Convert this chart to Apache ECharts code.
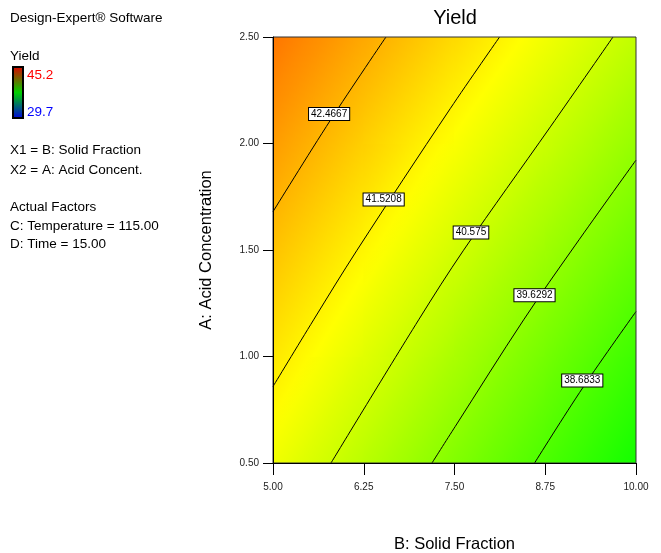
<!DOCTYPE html>
<html>
<head>
<meta charset="utf-8">
<title>Yield</title>
<script src="https://cdn.jsdelivr.net/npm/echarts@6/dist/echarts.min.js"></script>
<style>
  html, body { margin: 0; padding: 0; background: #ffffff; }
  #chart { width: 661px; height: 553px; }
</style>
</head>
<body>
<div id="chart"></div>
<script>
// Grid nodes along B: Solid Fraction (x) and A: Acid Concentration (y)
const solidFraction = [5.00, 6.25, 7.50, 8.75, 10.00];
const acidConcentration = [0.50, 1.00, 1.50, 2.00, 2.50];

// Predicted yield at each node, one row per acid concentration (bottom to top)
const yieldAt050 = [41.12, 40.27, 39.42, 38.58, 37.75];
const yieldAt100 = [41.69, 40.87, 40.04, 39.21, 38.36];
const yieldAt150 = [42.25, 41.46, 40.66, 39.86, 39.05];
const yieldAt200 = [42.83, 42.05, 41.27, 40.51, 39.73];
const yieldAt250 = [43.41, 42.65, 41.90, 41.14, 40.38];
const yieldGrid = [yieldAt050, yieldAt100, yieldAt150, yieldAt200, yieldAt250];

// Colour scale limits of the Yield response
const yieldMax = 45.2;
const yieldMin = 29.7;

// Contour levels and their paths [solid fraction, acid concentration]
const contourLevels = [42.4667, 41.5208, 40.575, 39.6292, 38.6833];
const contourPath1 = [[6.556, 2.5], [5.79, 2.109], [5.0, 1.68]];
const contourPath2 = [[8.121, 2.5], [7.442, 2.164], [6.157, 1.499], [5.559, 1.172], [5.0, 0.859]];
const contourPath3 = [[9.683, 2.5], [8.82, 2.078], [7.625, 1.499], [7.006, 1.172], [5.799, 0.5]];
const contourPath4 = [[10.0, 1.922], [9.164, 1.523], [8.452, 1.172], [7.511, 0.672], [7.19, 0.5]];
const contourPath5 = [[10.0, 1.211], [9.27, 0.855], [8.603, 0.5]];
const contourPaths = [contourPath1, contourPath2, contourPath3, contourPath4, contourPath5];

// Where each contour value is printed
const contourLabelAt = [[5.773, 2.138], [6.524, 1.737], [7.727, 1.582], [8.602, 1.288], [9.26, 0.887]];

// Tick formatting
const tickDecimals = 2;

const FONT = "'Liberation Sans', Arial, sans-serif";

// Blue -> cyan -> green -> yellow -> red by hue, min to max
function yieldColor(v) {
  let t = (yieldMax - v) / (yieldMax - yieldMin);
  t = Math.max(0, Math.min(1, t));
  const hp = (240 * t) / 60;
  const x = 1 - Math.abs((hp % 2) - 1);
  let r = 0, g = 0, b = 0;
  if (hp < 1) { r = 1; g = x; }
  else if (hp < 2) { r = x; g = 1; }
  else if (hp < 3) { g = 1; b = x; }
  else { g = x; b = 1; }
  const to255 = (c) => Math.round(c * 255);
  return 'rgb(' + to255(r) + ',' + to255(g) + ',' + to255(b) + ')';
}

// One item per grid cell: [centre x, centre y, column, row]
const cellData = [];
for (let r = 0; r < acidConcentration.length - 1; r++) {
  for (let c = 0; c < solidFraction.length - 1; c++) {
    cellData.push([
      (solidFraction[c] + solidFraction[c + 1]) / 2,
      (acidConcentration[r] + acidConcentration[r + 1]) / 2,
      c, r
    ]);
  }
}

// Shade a cell with a gradient that follows the local slope of the surface
function renderCell(params, api) {
  const c = api.value(2), r = api.value(3);
  const v00 = yieldGrid[r][c], v10 = yieldGrid[r][c + 1];
  const v01 = yieldGrid[r + 1][c], v11 = yieldGrid[r + 1][c + 1];
  const pBL = api.coord([solidFraction[c], acidConcentration[r]]);
  const pTR = api.coord([solidFraction[c + 1], acidConcentration[r + 1]]);
  const w = pTR[0] - pBL[0];
  const h = pBL[1] - pTR[1];
  const gx = ((v10 + v11) - (v00 + v01)) / 2 / w;
  const gy = -((v01 + v11) - (v00 + v10)) / 2 / h;
  const vc = (v00 + v10 + v01 + v11) / 4;
  const cx = (pBL[0] + pTR[0]) / 2, cy = (pBL[1] + pTR[1]) / 2;
  const g = Math.hypot(gx, gy) || 1e-9;
  const dx = gx / g, dy = gy / g;
  const L = Math.hypot(w, h) / 2 + 1;
  const stops = [];
  const n = 12;
  for (let k = 0; k <= n; k++) {
    const t = k / n;
    stops.push({ offset: t, color: yieldColor(vc + (2 * t - 1) * g * L) });
  }
  const fill = new echarts.graphic.LinearGradient(cx - dx * L, cy - dy * L, cx + dx * L, cy + dy * L, stops, true);
  return {
    type: 'rect',
    shape: { x: pBL[0] - 0.5, y: pTR[1] - 0.5, width: w + 1, height: h + 1 },
    style: { fill: fill, stroke: null }
  };
}

// Boxed contour value, placed at its data position
function renderContourLabel(params, api) {
  const p = api.coord([api.value(0), api.value(1)]);
  return {
    type: 'text',
    x: p[0], y: p[1],
    style: {
      text: String(api.value(2)),
      font: '10px ' + FONT,
      fill: '#000',
      align: 'center',
      verticalAlign: 'middle',
      backgroundColor: '#ffffff',
      borderColor: '#000000',
      borderWidth: 1,
      padding: [1, 2, 0, 2],
      lineHeight: 11
    }
  };
}

const contourSeries = contourPaths.map((path, i) => ({
  type: 'line',
  name: String(contourLevels[i]),
  data: path,
  smooth: 0.35,
  symbol: 'none',
  clip: true,
  lineStyle: { color: '#000000', width: 1 },
  z: 3,
  silent: true
}));

const labelData = contourLabelAt.map((p, i) => [p[0], p[1], contourLevels[i]]);

const sideText = [
  { text: 'Design-Expert® Software', y: 18 },
  { text: 'Yield', y: 56 },
  { text: 'X1 = B: Solid Fraction', y: 150 },
  { text: 'X2 = A: Acid Concent.', y: 170 },
  { text: 'Actual Factors', y: 207 },
  { text: 'C: Temperature = 115.00', y: 226 },
  { text: 'D: Time = 15.00', y: 244 }
];

const graphics = sideText.map((s) => ({
  type: 'text', x: 10, y: s.y,
  style: { text: s.text, fill: '#000', font: '13.5px ' + FONT, textVerticalAlign: 'middle' }
}));
graphics.push({
  type: 'rect',
  shape: { x: 13, y: 67, width: 10, height: 51 },
  style: {
    fill: new echarts.graphic.LinearGradient(0, 0, 0, 1, [
      { offset: 0, color: '#e00000' },
      { offset: 0.5, color: '#00d000' },
      { offset: 1, color: '#0000e0' }
    ]),
    stroke: '#000', lineWidth: 2
  }
});
graphics.push({
  type: 'text', x: 27, y: 75,
  style: { text: String(yieldMax), fill: '#ff0000', font: '13.5px ' + FONT, textVerticalAlign: 'middle' }
});
graphics.push({
  type: 'text', x: 27, y: 112,
  style: { text: String(yieldMin), fill: '#0000ff', font: '13.5px ' + FONT, textVerticalAlign: 'middle' }
});
graphics.push({
  type: 'text', x: 455, y: 18,
  style: { text: 'Yield', fill: '#000', font: '20px ' + FONT, textAlign: 'center', textVerticalAlign: 'middle' }
});

const chart = echarts.init(document.getElementById('chart'), null, { renderer: 'canvas' });
chart.setOption({
  animation: false,
  backgroundColor: '#ffffff',
  textStyle: { fontFamily: FONT },
  grid: {
    left: 273, top: 37, width: 363, height: 426,
    outerBoundsMode: 'none', containLabel: false,
    show: true, borderColor: '#333', borderWidth: 1, backgroundColor: 'transparent', z: 4
  },
  xAxis: {
    type: 'value',
    min: solidFraction[0], max: solidFraction[solidFraction.length - 1], interval: 1.25,
    name: 'B: Solid Fraction', nameLocation: 'middle', nameGap: 73, nameMoveOverlap: false,
    nameTextStyle: { fontSize: 16.5, color: '#000', fontFamily: FONT },
    axisLine: { show: true, lineStyle: { color: '#000', width: 1 } },
    axisTick: { show: true, length: 12, lineStyle: { color: '#000' } },
    axisLabel: { fontSize: 10, color: '#222', margin: 19, formatter: (v) => v.toFixed(tickDecimals) },
    splitLine: { show: false },
    z: 5
  },
  yAxis: {
    type: 'value',
    min: acidConcentration[0], max: acidConcentration[acidConcentration.length - 1], interval: 0.5,
    name: 'A: Acid Concentration', nameLocation: 'middle', nameGap: 58, nameMoveOverlap: false,
    nameTextStyle: { fontSize: 16.5, color: '#000', fontFamily: FONT },
    axisLine: { show: true, lineStyle: { color: '#000', width: 1 } },
    axisTick: { show: true, length: 10, lineStyle: { color: '#000' } },
    axisLabel: { fontSize: 10, color: '#222', margin: 14, formatter: (v) => v.toFixed(tickDecimals) },
    splitLine: { show: false },
    z: 5
  },
  graphic: graphics,
  series: [
    {
      type: 'custom',
      name: 'Yield surface',
      data: cellData,
      encode: { x: 0, y: 1 },
      renderItem: renderCell,
      clip: true,
      silent: true,
      z: 1
    },
    ...contourSeries,
    {
      type: 'custom',
      name: 'Contour values',
      data: labelData,
      encode: { x: 0, y: 1 },
      renderItem: renderContourLabel,
      silent: true,
      z: 6
    }
  ]
});
</script>
</body>
</html>
